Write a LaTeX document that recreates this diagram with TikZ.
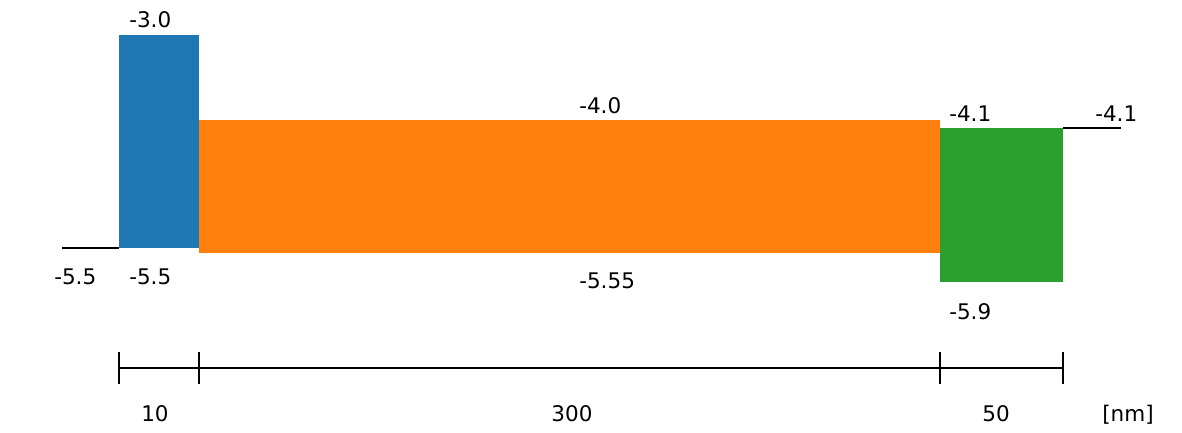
\documentclass[tikz,border=0pt]{standalone}
\usepackage{fontspec}
\setmainfont{DejaVu Sans}
\definecolor{bandblue}{HTML}{1F77B4}
\definecolor{bandorange}{HTML}{FF7F0E}
\definecolor{bandgreen}{HTML}{2CA02C}
\begin{document}
\begin{tikzpicture}[x=0.025cm, y=-0.025cm,
    level/.style={line width=2pt},
    val/.style={anchor=base west, inner sep=0pt, font=\fontsize{15.3}{18}\selectfont},
    len/.style={anchor=base, inner sep=0pt, font=\fontsize{15.3}{18}\selectfont}]
    \useasboundingbox (0,0) rectangle (1182,433);

    % Layers
    \fill[bandblue] (119,35) rectangle (199,248);
    \fill[bandorange] (199,120) rectangle (940,253);
    \fill[bandgreen] (940,128) rectangle (1063,282);

    % Electrodes
    \draw[level] (62,248) -- (119,248);
    \draw[level] (1063,128) -- (1121,128);

    % Energy values
    \node[val] (top1) at (129,28) {-3.0};
    \node[val] (top2) at (579,113) {-4.0};
    \node[val] (top3) at (949,121) {-4.1};
    \node[val] (cathode) at (1095,121) {-4.1};
    \node[val] (anode) at (54,284) {-5.5};
    \node[val] (bot1) at (129,284) {-5.5};
    \node[val] (bot2) at (579,288) {-5.55};
    \node[val] (bot3) at (949,319) {-5.9};

    % Thickness
    \draw[level] (119,368) -- (1063,368);
    \foreach \x in {119,199,940,1063} {
        \draw[level] (\x,352) -- (\x,384);
    }
    \node[len] (d1) at (155,421) {10};
    \node[len] (d2) at (572,421) {300};
    \node[len] (d3) at (996,421) {50};
    \node[val] (unit) at (1102,421) {[nm]};
\end{tikzpicture}
\end{document}
